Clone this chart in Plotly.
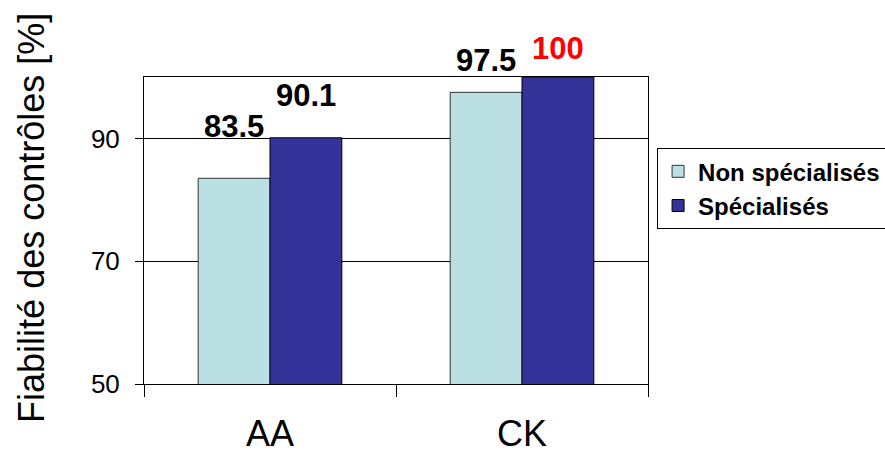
import plotly.graph_objects as go

# Categories and series values
categories = ["AA", "CK"]
non_specialises = [83.5, 97.5]
specialises = [90.1, 100]
series_names = ["Non spécialisés", "Spécialisés"]
y_ticks = [50, 70, 90]
y_title = "Fiabilité des contrôles [%]"

FONT = "Liberation Sans, Arial, sans-serif"
LIGHT = "#BBE0E3"
DARK = "#333399"

fig = go.Figure()
fig.add_trace(go.Bar(
    name=series_names[0], x=categories, y=non_specialises,
    marker=dict(color=LIGHT, line=dict(color="#333333", width=1)),
))
fig.add_trace(go.Bar(
    name=series_names[1], x=categories, y=specialises,
    marker=dict(color=DARK, line=dict(color="#000000", width=1)),
))

# Value labels above each bar (vertical offsets per label)
label_shifts = {
    0: [32, 12],   # Non spécialisés: AA, CK
    1: [23, 9],    # Spécialisés: AA, CK
}
label_colors = {0: ["#000000", "#000000"], 1: ["#000000", "#FF0000"]}
for s, vals in enumerate([non_specialises, specialises]):
    for i, (cat, v) in enumerate(zip(categories, vals)):
        fig.add_annotation(
            x=cat, y=v, xref="x", yref="y",
            text=f"{v:g}", showarrow=False,
            xshift=-36 if s == 0 else 36,
            yanchor="bottom", yshift=label_shifts[s][i],
            font=dict(family=FONT, size=31, color=label_colors[s][i], weight="bold"),
        )

# Vertical axis title
fig.add_annotation(
    x=0, y=0.541, xref="paper", yref="paper",
    xanchor="center", yanchor="middle", xshift=-112,
    text=y_title, textangle=-90, showarrow=False,
    font=dict(family=FONT, size=36, color="black"),
)

fig.update_layout(
    width=885, height=454,
    margin=dict(l=144, r=237, t=77, b=70, autoexpand=False),
    paper_bgcolor="white", plot_bgcolor="white",
    barmode="group", bargap=0.43, bargroupgap=0,
    font=dict(family=FONT, color="black"),
    showlegend=True,
    legend=dict(
        x=1.018, xanchor="left", y=0.768, yanchor="top",
        traceorder="normal",
        bgcolor="white", bordercolor="black", borderwidth=1,
        font=dict(family=FONT, size=24, color="black", weight="bold"),
    ),
)

fig.update_xaxes(
    type="category",
    showline=True, linecolor="black", linewidth=1, mirror=True,
    ticks="outside", tickson="boundaries", ticklen=12, tickcolor="black",
    tickfont=dict(family=FONT, size=36, color="black"),
    ticklabelstandoff=18,
    showgrid=False,
)
fig.update_yaxes(
    range=[50, 100], tickvals=y_ticks,
    showline=True, linecolor="black", linewidth=1, mirror=True,
    ticks="outside", ticklen=8, tickcolor="black",
    tickfont=dict(family=FONT, size=26, color="black"),
    ticklabelstandoff=10,
    showgrid=True, gridcolor="black", gridwidth=1,
    zeroline=False,
)

fig.write_html("out.html")
